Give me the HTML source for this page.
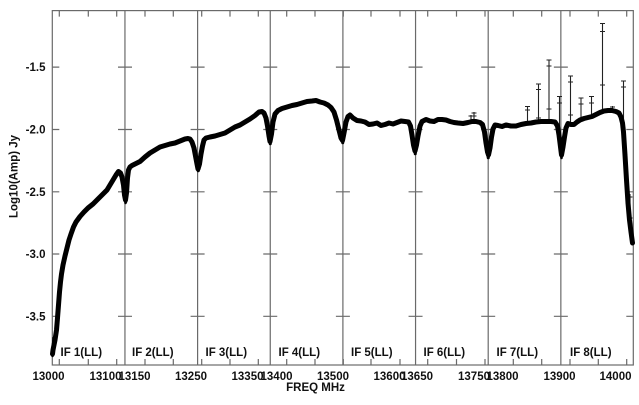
<!DOCTYPE html>
<html><head><meta charset="utf-8"><style>
html,body{margin:0;padding:0;background:#fff;}
svg{display:block;}
text{font-family:"Liberation Sans",Arial,sans-serif;font-weight:bold;fill:#111;}
</style></head><body>
<svg width="639" height="405" viewBox="0 0 639 405" xmlns="http://www.w3.org/2000/svg">
<g stroke="#6a6a6a" stroke-width="1.2" fill="none">
<rect x="52.3" y="10.6" width="581" height="354.4"/>
<line x1="124.95" y1="10.6" x2="124.95" y2="365"/>
<line x1="197.6" y1="10.6" x2="197.6" y2="365"/>
<line x1="270.25" y1="10.6" x2="270.25" y2="365"/>
<line x1="342.9" y1="10.6" x2="342.9" y2="365"/>
<line x1="415.55" y1="10.6" x2="415.55" y2="365"/>
<line x1="488.2" y1="10.6" x2="488.2" y2="365"/>
<line x1="560.85" y1="10.6" x2="560.85" y2="365"/>
<path d="
M52.3 67.1h7 M52.3 129.5h7 M52.3 191.8h7 M52.3 254h7 M52.3 316.3h7
M633.3 67.1h-7 M633.3 129.5h-7 M633.3 191.8h-7 M633.3 254h-7 M633.3 316.3h-7
M118 67.1h14 M118 129.5h14 M118 191.8h14 M118 254h14 M118 316.3h14
M190.6 67.1h14 M190.6 129.5h14 M190.6 191.8h14 M190.6 254h14 M190.6 316.3h14
M263.25 67.1h14 M263.25 129.5h14 M263.25 191.8h14 M263.25 254h14 M263.25 316.3h14
M335.9 67.1h14 M335.9 129.5h14 M335.9 191.8h14 M335.9 254h14 M335.9 316.3h14
M408.55 67.1h14 M408.55 129.5h14 M408.55 191.8h14 M408.55 254h14 M408.55 316.3h14
M481.2 67.1h14 M481.2 129.5h14 M481.2 191.8h14 M481.2 254h14 M481.2 316.3h14
M553.85 67.1h14 M553.85 129.5h14 M553.85 191.8h14 M553.85 254h14 M553.85 316.3h14
"/>
<path d="
M59.3 10.6v6 M88.3 10.6v6 M116.7 10.6v6 M145 10.6v6 M173.3 10.6v6 M201.7 10.6v6 M230 10.6v6 M258.3 10.6v6 M286.7 10.6v6 M315 10.6v6 M343.3 10.6v6 M371 10.6v6 M400 10.6v6 M427.7 10.6v6 M456.5 10.6v6 M485 10.6v6 M513.3 10.6v6 M541.7 10.6v6 M570 10.6v6 M598.3 10.6v6 M626.7 10.6v6
M59.3 365v-6 M88.3 365v-6 M116.7 365v-6 M145 365v-6 M173.3 365v-6 M201.7 365v-6 M230 365v-6 M258.3 365v-6 M286.7 365v-6 M315 365v-6 M343.3 365v-6 M371 365v-6 M400 365v-6 M427.7 365v-6 M456.5 365v-6 M485 365v-6 M513.3 365v-6 M541.7 365v-6 M570 365v-6 M598.3 365v-6 M626.7 365v-6
"/>
</g>

<!-- spikes -->
<g stroke="#222" stroke-width="1.1" fill="none">
<path d="M471 122V115 M474 122V112 M527.5 122V106.5 M538.5 121V84 M549 121V60 M559.5 150V96.5 M570.5 124V76 M581 119V98 M591.5 117V96.5 M602.5 112V23.5 M612.5 110V106 M623.5 130V81 M630 222V194"/>
<path d="M468.5 116h5 M471.5 113h5 M471.5 116h5
M525 106.5h5 M525 110h5
M536 84h5 M536 89.5h5 M536 118h5
M546.5 60h5 M546.5 66h5 M546.5 109h5
M557 96.5h5 M557 103h5
M568 76h5 M568 82h5 M568 115h5
M578.5 98h5 M578.5 104h5
M589 96.5h5 M589 103h5
M600 23.5h5 M600 31.5h5 M600 85h5
M610 107h5
M621 81h5 M621 87h5
M627.5 197h5 M627.5 218h5"/>
</g>

<!-- data -->
<polyline fill="none" stroke="#000" stroke-width="5" stroke-linejoin="round" stroke-linecap="round" points="
52.5,354 53,350 54,345 55,340 56.5,330 57.5,318 58.5,305 59.5,292 60.5,282 61.5,274 63,265 65,256 67,248 69,240 71,234 73.5,227 76,222 80,216.5 84,212 88,208 93,204 97,200 100,197 104,193 107,190 110,185 113,180 116,175 118.5,171.5 120.5,173 122,177 123.5,185 124.5,195 125.5,200 126.5,193 127.5,178 128.5,170 130,167 132,165.5 136,163.5 140,161.5 145,157 150,153 155,150 160,147 165,145.5 170,144 175,143 180,141 185,139 188,138.5 190,139 192,142 194,148 195.5,156 197,164 198,169 199.5,164 201,154 202.5,146 204,140 206,138 210,137 215,136 220,134.5 225,133 230,130 235,127 240,125 245,122 250,119 255,115.5 259,112 262,111.5 264,113 266,118 267.5,126 269,136 270,141.5 271.5,134 273,122 275,114 278,110.5 282,108.5 287,107 292,105.5 297,104.5 302,103 307,101.5 312,101 316,100.5 320,102 324,103 328,105 331,107.5 334,112 336.5,120 339,130 341,138 342.5,140.5 344,133 346,122 348,116.5 350,115 353,118 357,120.5 361,121 365,122 369,124.5 373,124 377,123 381,125.5 385,124.5 389,123 393,124 397,122.5 401,121 405,121.5 408.5,122 410.5,126 412,135 413.5,145 415,151 416.5,145 418,136 420,126 422,121.5 426,119.5 430,121 434,121.5 438,119.5 442,119.5 446,120 450,121.5 454,122.5 458,123 463,123.5 468,122.5 472,121.5 476,121.5 480,122.5 482.5,124.5 484.5,132 486,143 487.5,152 488.5,155 490,148 491.5,137 493,129 495,125 498,125.5 502,126.5 506,125 511,126 516,126 521,124.5 526,123.5 531,123 536,122 541,121.5 546,121.5 551,121.5 555,122 557.5,126 559,135 560.5,147 561.5,155 563,147 564.5,137 566,128 568,123.5 571,124.5 574,124.5 577,122 580,120 584,118.5 588,117.5 592,116.5 596,114.5 600,112.5 604,111 608,110.5 612,110.5 616,111.5 619,113 621,117 622.5,123 623.5,132 625,155 626.5,180 628,203 629.5,220 631,232 632.5,243"/>
<!-- dip scatter thickening -->
<g fill="none" stroke="#000" stroke-width="2.5" stroke-linecap="round">
<path d="M124 186L125.5 203 M127 186L126 202 M196 158L198 171 M200 158L198.5 171 M268.5 130L270 144 M272 130L270.5 144 M341 132L342.5 143 M344.5 132L343 143 M413.5 140L415 154 M417 140L415.5 154 M486 145L488 158 M490 145L488.5 158 M559.5 145L561.5 158 M563 145L561.5 158 M53.5 338L52.5 356 M55.5 335L54 350"/>
</g>

<!-- y tick labels -->
<g font-size="11.5" text-anchor="end">
<text x="45.5" y="71.2">-1.5</text>
<text x="45.5" y="133.6">-2.0</text>
<text x="45.5" y="195.9">-2.5</text>
<text x="45.5" y="258.1">-3.0</text>
<text x="45.5" y="320.4">-3.5</text>
</g>
<text font-size="11.5" text-anchor="middle" transform="translate(17.5,176.5) rotate(-90)">Log10(Amp) Jy</text>

<!-- x tick labels -->
<g font-size="11.5" text-anchor="end">
<text x="64.5" y="380">13000</text>
<text x="121.5" y="380">13100</text>
<text x="150.5" y="380">13150</text>
<text x="207" y="380">13250</text>
<text x="263.5" y="380">13350</text>
<text x="292.5" y="380">13400</text>
<text x="349" y="380">13500</text>
<text x="405.5" y="380">13600</text>
<text x="433" y="380">13650</text>
<text x="490" y="380">13750</text>
<text x="518.5" y="380">13800</text>
<text x="575.5" y="380">13900</text>
<text x="631.5" y="380">14000</text>
</g>
<text font-size="11.5" x="315.5" y="391" text-anchor="middle">FREQ MHz</text>

<!-- IF labels -->
<g font-size="11.5">
<text x="60.5" y="356">IF 1(LL)</text>
<text x="132" y="356">IF 2(LL)</text>
<text x="205.5" y="356">IF 3(LL)</text>
<text x="278.5" y="356">IF 4(LL)</text>
<text x="351" y="356">IF 5(LL)</text>
<text x="423.5" y="356">IF 6(LL)</text>
<text x="496.5" y="356">IF 7(LL)</text>
<text x="570" y="356">IF 8(LL)</text>
</g>
</svg>
</body></html>
